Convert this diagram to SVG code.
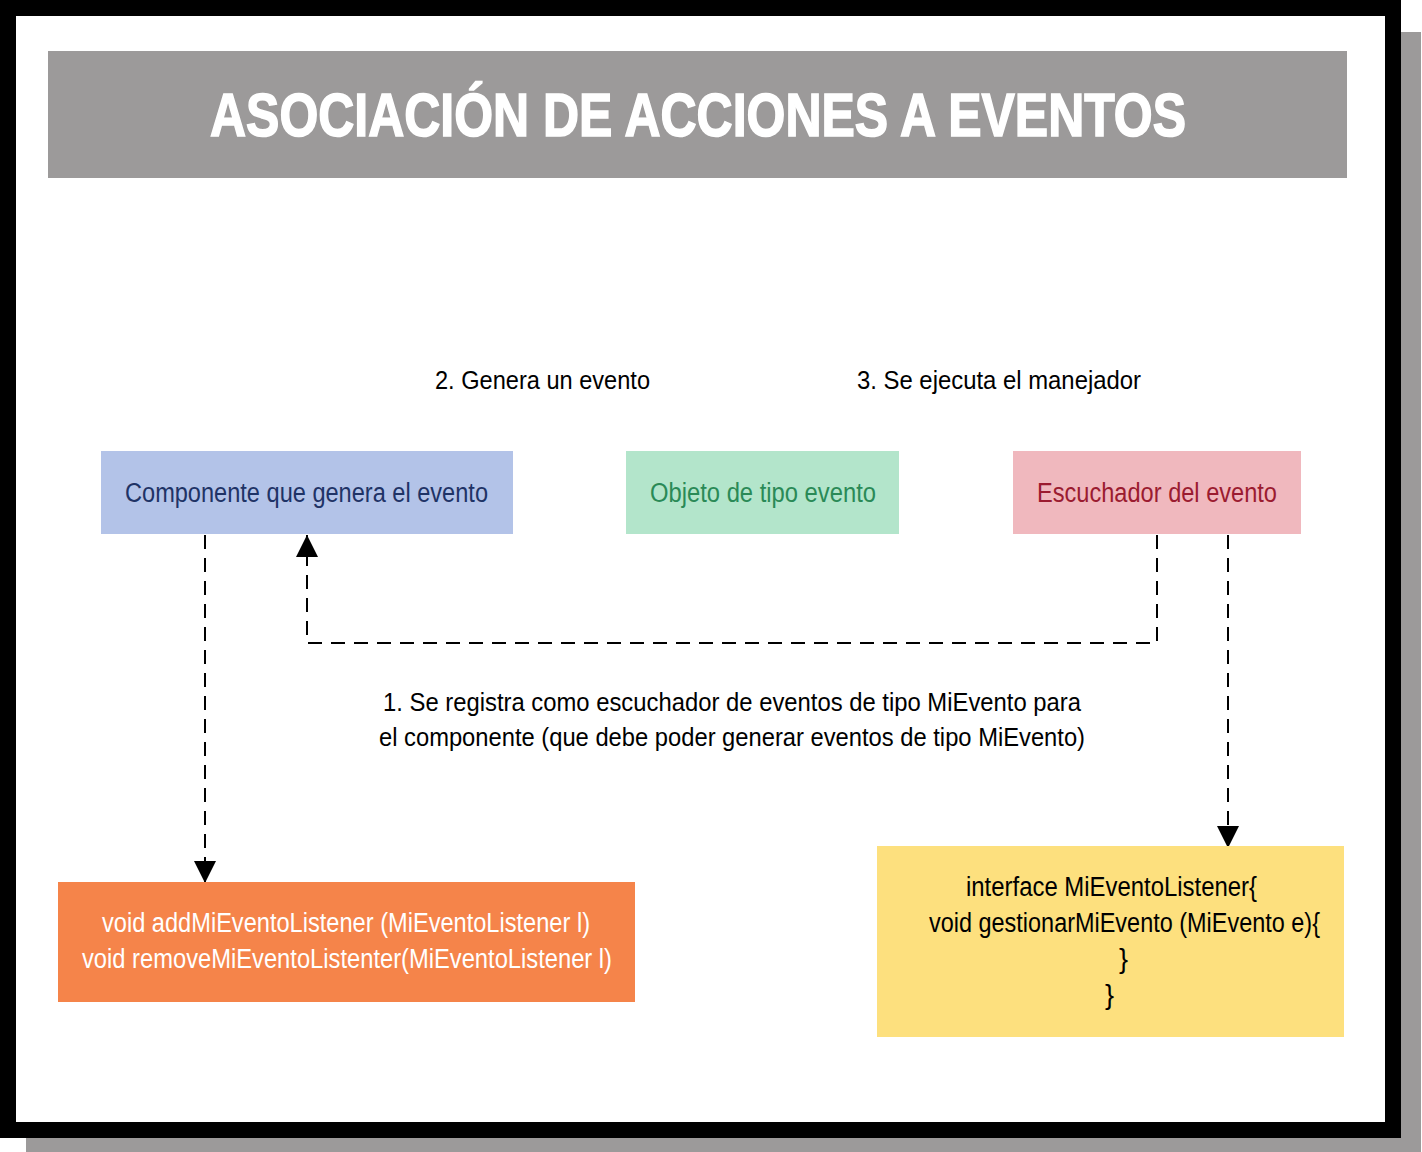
<svg xmlns="http://www.w3.org/2000/svg" width="1422" height="1152" viewBox="0 0 1422 1152">
<defs>
<style>
.t{font-family:"Liberation Sans Narrow","Liberation Sans",Arial,sans-serif;font-size:27px;}
.title{font-family:"Liberation Sans Narrow","Liberation Sans",Arial,sans-serif;font-size:62px;font-weight:bold;fill:#ffffff;stroke:#ffffff;stroke-width:1.6;}
.dash{fill:none;stroke:#000000;stroke-width:2;stroke-dasharray:14 9;}
</style>
<marker id="arr" markerUnits="userSpaceOnUse" markerWidth="22" markerHeight="22" viewBox="0 0 22 22" refX="22" refY="11" orient="auto">
<path d="M0,0 L22,11 L0,22 Z" fill="#000000"/>
</marker>
</defs>
<rect x="26" y="32" width="1395" height="1120" fill="#9c9a9a"/>
<rect x="0" y="0" width="1401" height="1138" fill="#000000"/>
<rect x="16" y="16" width="1369" height="1106" fill="#ffffff"/>
<g id="title">
<rect x="48" y="51" width="1299" height="127" fill="#9c9a9a"/>
<text class="title" x="210" y="136" textLength="976" lengthAdjust="spacingAndGlyphs">ASOCIACIÓN DE ACCIONES A EVENTOS</text>
</g>
<g id="connectors">
<path class="dash" d="M205,535 L205,883" marker-end="url(#arr)"/>
<path class="dash" d="M1157,535 L1157,643 L307,643 L307,535" marker-end="url(#arr)"/>
<path class="dash" d="M1228,535 L1228,848" marker-end="url(#arr)"/>
</g>
<g id="label-genera">
<text class="t" x="435" y="389" textLength="215" lengthAdjust="spacingAndGlyphs" style="font-size:25px">2. Genera un evento</text>
</g>
<g id="label-ejecuta">
<text class="t" x="857" y="389" textLength="284" lengthAdjust="spacingAndGlyphs" style="font-size:25px">3. Se ejecuta el manejador</text>
</g>
<g id="label-registra">
<text class="t" x="383" y="711" textLength="698" lengthAdjust="spacingAndGlyphs" style="font-size:26px">1. Se registra como escuchador de eventos de tipo MiEvento para</text>
<text class="t" x="379" y="746" textLength="706" lengthAdjust="spacingAndGlyphs" style="font-size:26px">el componente (que debe poder generar eventos de tipo MiEvento)</text>
</g>
<g id="componente">
<rect x="101" y="451" width="412" height="83" fill="#b3c3e8"/>
<text class="t" x="125" y="502" textLength="363" lengthAdjust="spacingAndGlyphs" fill="#1f3366">Componente que genera el evento</text>
</g>
<g id="objeto">
<rect x="626" y="451" width="273" height="83" fill="#b3e5cb"/>
<text class="t" x="650" y="502" textLength="226" lengthAdjust="spacingAndGlyphs" fill="#2a8a57">Objeto de tipo evento</text>
</g>
<g id="escuchador">
<rect x="1013" y="451" width="288" height="83" fill="#f0b8be"/>
<text class="t" x="1037" y="502" textLength="240" lengthAdjust="spacingAndGlyphs" fill="#9b1b30">Escuchador del evento</text>
</g>
<g id="metodos">
<rect x="58" y="882" width="577" height="120" fill="#f5844a"/>
<text class="t" x="102" y="932" textLength="488" lengthAdjust="spacingAndGlyphs" fill="#ffffff">void addMiEventoListener (MiEventoListener l)</text>
<text class="t" x="82" y="968" textLength="530" lengthAdjust="spacingAndGlyphs" fill="#ffffff">void removeMiEventoListenter(MiEventoListener l)</text>
</g>
<g id="interface">
<rect x="877" y="846" width="467" height="191" fill="#fde07e"/>
<text class="t" x="966" y="896" textLength="291" lengthAdjust="spacingAndGlyphs" fill="#000000">interface MiEventoListener{</text>
<text class="t" x="929" y="932" textLength="391" lengthAdjust="spacingAndGlyphs" fill="#000000">void gestionarMiEvento (MiEvento e){</text>
<text class="t" x="1119" y="968" fill="#000000">}</text>
<text class="t" x="1105" y="1004" fill="#000000">}</text>
</g>
</svg>
